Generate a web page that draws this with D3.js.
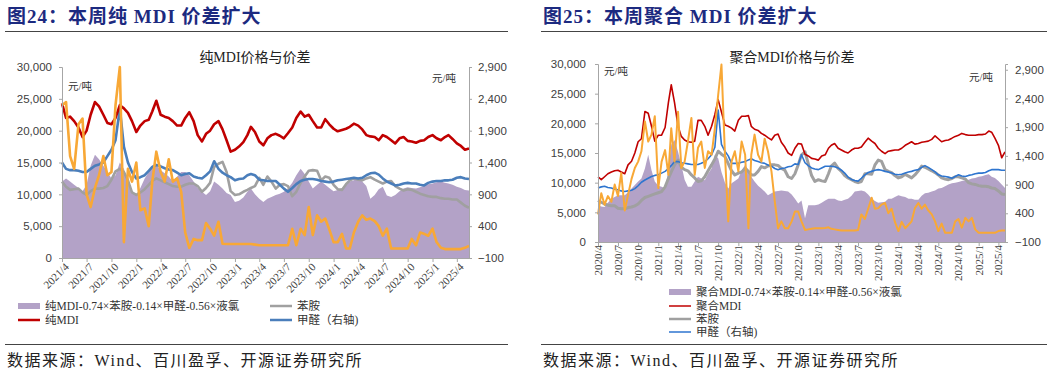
<!DOCTYPE html>
<html>
<head>
<meta charset="utf-8">
<script src="https://cdn.jsdelivr.net/npm/d3@7"></script>
<style>
  body { margin: 0; background: #fff; }
  svg { display: block; font-family: "Liberation Serif", "Noto Sans CJK SC", serif; }
</style>
</head>
<body>
<svg id="chart" width="1057" height="374"></svg>
<script>
// half-month observations, left panel starts 2021/4, right panel starts 2020/4
const pureStart = '2021-04-01';
const polyStart = '2020-04-01';

const pureSpread = [12000,12500,12000,11500,11000,10500,11500,14500,16200,15500,
  14500,13500,12500,13000,15000,14000,12000,10500,9900,11000,
  12500,13500,14500,14600,13800,13300,12800,12000,12800,13500,
  13500,13000,12000,11000,10400,9900,10500,12000,11500,10900,
  10200,9900,8800,9000,9500,10400,10900,10000,9300,8800,
  9300,9600,9900,10100,10400,10900,11800,13000,14000,13200,
  12000,10900,11500,12000,11500,11000,10500,10700,11000,11500,
  12000,12200,12700,12000,11300,9300,9900,10800,11200,9800,
  9600,9900,10500,10900,11100,11000,10900,11100,11400,11600,
  11700,11900,12000,11800,11700,11500,11200,11000,10700,10600];
const pureMDI = [24300,22000,22200,21500,20500,19000,20000,22500,24500,23800,
  22500,21200,21000,22000,24000,23500,22800,21500,19800,20800,
  21500,21700,23000,24700,22500,22200,22000,21500,20800,20800,
  22000,22900,21500,19300,18300,19500,20000,21000,21500,20200,
  18500,16700,17000,17500,18200,19300,20600,19800,18300,17700,
  18800,19300,19500,19200,18800,19600,20500,22000,23000,22200,
  22500,21500,20500,20500,21800,21000,20300,19900,20100,20300,
  20600,21100,20800,20200,19300,19100,19000,18500,19300,19000,
  18500,18000,18800,19000,18400,18300,18100,18400,18500,19000,
  19300,18800,18500,19000,19300,18700,18000,17600,17000,17200];
const pureAniline = [12000,11200,10700,10800,10900,10300,9900,10500,10900,10900,
  11000,11300,12300,13600,14000,13500,12200,10300,9900,10300,
  10800,11500,12100,12500,12200,11900,11600,11300,11200,11200,
  11500,11700,11700,11300,10400,11000,11800,14300,14800,15100,
  13500,10500,9900,10000,10400,10700,11000,11300,12600,11500,
  12800,12000,10900,11500,11600,11300,9700,10400,11800,12800,
  13700,13800,13700,12200,12800,12600,11500,10800,10700,11600,
  12200,12500,12300,12200,12500,12700,12300,12000,11700,12000,
  12100,11300,10900,10600,10800,10700,10400,10100,9900,9700,
  9600,9600,9400,9300,9300,9200,9200,8700,8200,7900];
const pureMethanal = [1400,1300,1280,1280,1270,1250,1250,1300,1350,1370,
  1400,1500,1600,1750,2250,1650,1400,1250,1150,1170,
  1200,1270,1330,1360,1340,1310,1290,1280,1240,1200,
  1220,1230,1180,1160,1150,1200,1260,1420,1300,1240,
  1200,1170,1120,1140,1150,1200,1220,1200,1130,1120,
  1110,1110,1110,1050,990,940,1000,1060,1110,1130,
  1140,1140,1130,1110,1100,1090,1100,1120,1130,1140,
  1150,1160,1150,1160,1200,1230,1240,1210,1150,1100,
  1070,1040,1050,1070,1080,1070,1070,1050,1040,1080,
  1100,1110,1110,1120,1120,1130,1160,1170,1150,1140];
const pureChlorine = [2300,2350,1500,1300,2000,2090,900,700,1000,1200,
  1500,1200,1250,2300,2900,150,1300,1100,1400,650,
  680,400,1100,1570,1250,1100,1450,1100,1150,940,
  300,60,200,180,180,450,360,250,470,125,
  120,120,120,120,120,120,120,110,100,100,
  100,100,100,100,100,100,360,100,360,260,
  700,260,570,470,520,350,150,150,280,50,
  50,300,470,570,500,520,480,400,250,360,
  50,50,50,50,50,200,100,300,280,250,
  360,150,60,40,40,40,40,40,60,90];

const polySpread = [6200,6000,5900,6600,7300,7600,7900,7900,7900,8400,
  9000,9600,10200,10700,12400,14700,12100,10200,9500,9300,
  9000,12100,16400,17200,15200,13000,10500,9300,9300,10200,
  11000,10700,10400,11500,12400,14700,14100,11800,10000,9000,
  9900,10300,10700,12000,13000,12100,11000,10200,9500,9000,
  8500,7900,8200,8500,8600,8700,8600,8500,8000,7300,
  6500,7000,4000,6200,6200,6200,6300,6600,7000,7300,
  7300,7300,7000,6900,7100,7300,7800,8500,8600,8700,
  8500,8000,7300,6900,6600,6700,6800,7300,7300,7600,
  7900,7700,7600,7300,7300,7100,7100,7800,8200,8300,
  8500,8700,9000,9100,9400,9700,9900,10000,10100,10300,
  10400,10500,10700,10800,11000,11100,11300,11400,11000,10800,
  10300,9700,9100];
const polyMDI = [11000,10500,11000,11500,11800,12000,12100,11800,11500,13000,
  13600,15000,16900,17400,22000,21700,19500,17000,18000,18000,
  19300,23500,26500,23500,19500,17800,17200,16900,16800,17000,
  20500,20500,19500,18000,19500,21500,24000,21900,19700,19500,
  19200,18700,20500,21200,21200,21300,19500,19000,18800,18300,
  18000,17600,17200,18000,18200,16800,16000,15000,14600,15800,
  16600,16500,14800,14500,14100,14000,13800,14500,14700,15800,
  16300,16600,15800,15500,15200,15000,15500,15800,15800,16000,
  16800,17500,17000,16600,15800,15300,14900,15300,15400,15500,
  15500,15800,16300,16600,16900,16500,16600,16800,16900,17000,
  17300,17900,17400,16900,17100,17200,17500,17800,18000,18300,
  18100,18000,18000,18000,18100,18100,18200,18700,18500,17500,
  16300,14200,15200];
const polyAniline = [7000,6700,6400,6200,6100,6100,5700,5600,5600,5800,
  5900,6100,6400,7000,7500,7700,7900,8100,8300,8500,
  9300,10700,11800,13000,13800,12600,12200,12000,11300,10800,
  10200,10300,11000,12000,13000,14000,15300,14800,14400,13200,
  12000,11300,11600,11800,12400,11900,11300,11300,11900,12700,
  12500,12800,13000,13000,12900,12400,12100,11000,10700,11500,
  13000,14700,15200,13200,11200,10200,10500,10300,10200,11500,
  12800,13300,12400,11900,11200,10800,10500,10200,10000,10200,
  11500,11500,11400,13000,13800,13600,12200,11900,11700,11200,
  10800,11000,11400,11100,10800,11300,12000,12800,12600,12300,
  12000,11700,11300,10800,10600,10500,10700,11000,11000,10800,
  10600,10000,9800,9700,9500,9400,9400,9300,9100,9000,
  8600,8100,8000];
const polyMethanal = [840,860,870,850,840,820,810,790,780,790,
  800,830,880,940,980,1010,1040,1060,1070,1100,
  1130,1180,1230,1300,1300,1280,1270,1260,1250,1250,
  1250,1270,1300,1350,1420,1550,2200,1600,1480,1400,
  1270,1270,1270,1290,1300,1330,1350,1320,1300,1280,
  1270,1240,1220,1180,1160,1180,1190,1210,1220,1260,
  1250,1420,1280,1230,1190,1170,1160,1190,1220,1220,
  1220,1210,1190,1150,1100,1030,990,970,960,1010,
  1070,1110,1130,1150,1160,1150,1130,1120,1100,1080,
  1070,1080,1100,1120,1130,1150,1160,1200,1230,1200,
  1160,1120,1070,1050,1040,1030,1010,1040,1070,1050,
  1040,1060,1070,1090,1100,1100,1110,1140,1160,1160,
  1160,1150,1150];
const polyChlorine = [380,750,550,700,600,900,700,1100,450,720,
  1000,1190,1300,1480,2000,1650,1770,2090,840,1300,
  1500,1070,1880,1300,2170,1190,1300,1650,2060,1070,
  1540,1650,1190,1480,1420,1880,2460,2990,1420,260,
  1300,1480,1130,1650,1420,140,1420,1770,1420,1300,
  1700,1480,1130,610,140,260,140,140,260,430,
  430,260,110,120,130,140,140,140,145,155,
  130,120,110,100,100,100,100,100,110,380,
  300,480,670,480,490,550,580,400,480,250,
  90,250,140,200,260,490,580,480,550,450,
  380,260,90,220,60,60,60,260,300,150,
  320,260,320,120,60,60,60,60,60,60,
  90,100,100];

const leftTicks = [0, 5000, 10000, 15000, 20000, 25000, 30000];
const rightTicks = [-100, 400, 900, 1400, 1900, 2400, 2900];
const sourceText = '数据来源：Wind、百川盈孚、开源证券研究所';

const colors = {
  spread: '#b3a2c7',
  mdi: '#c00000',
  aniline: '#a0a0a0',
  methanal: '#4a7ebb',
  chlorine: '#f8a836'
};

const svg = d3.select('#chart');

function halfMonths(start, n) {
  const s = new Date(start + 'T00:00:00Z');
  return d3.range(n).map(i => new Date(Date.UTC(s.getUTCFullYear(), s.getUTCMonth() + Math.floor(i / 2), i % 2 ? 16 : 1)));
}

function panel(o) {
  const g = svg.append('g');

  // heading, rules and source
  g.append('text').attr('x', o.hx).attr('y', 23)
    .attr('font-size', 19).attr('font-weight', 'bold').attr('fill', '#1c2a80')
    .attr('letter-spacing', 1).text(o.heading);
  g.append('line').attr('x1', o.rule[0]).attr('x2', o.rule[1]).attr('y1', 31.5).attr('y2', 31.5)
    .attr('stroke', '#444').attr('stroke-width', 1.2);
  g.append('line').attr('x1', o.rule[0]).attr('x2', o.rule[1]).attr('y1', 344.5).attr('y2', 344.5)
    .attr('stroke', '#444').attr('stroke-width', 1.2);
  g.append('text').attr('x', o.hx).attr('y', 366).attr('font-size', 16).attr('fill', '#222')
    .attr('letter-spacing', 1.5).text(sourceText);
  g.append('text').attr('x', o.titleX).attr('y', 62).attr('text-anchor', 'middle')
    .attr('font-size', 14).attr('fill', '#222').text(o.chartTitle);

  const dates = halfMonths(o.start, o.spread.length);
  const x = d3.scaleUtc().domain(d3.extent(dates)).range([o.left, o.right]);
  const yL = d3.scaleLinear().domain([0, 30000]).range([o.bottom, o.top]);
  const yR = d3.scaleLinear().domain(o.rDomain).range([o.bottom, o.top]);

  // spread area
  g.append('path').datum(o.spread)
    .attr('fill', colors.spread)
    .attr('d', d3.area().x((d, i) => x(dates[i])).y0(yL(0)).y1(d => yL(d)));

  const line = (scale) => d3.line().x((d, i) => x(dates[i])).y(d => scale(d));
  const series = [
    [o.aniline, yL, colors.aniline, o.w.aniline],
    [o.methanal, yR, o.blue, o.w.methanal],
    [o.mdi, yL, colors.mdi, o.w.mdi],
    [o.chlorine, yR, colors.chlorine, o.w.chlorine]
  ];
  series.forEach(s => {
    g.append('path').datum(s[0]).attr('fill', 'none')
      .attr('stroke', s[2]).attr('stroke-width', s[3]).attr('stroke-linejoin', 'round')
      .attr('d', line(s[1]));
  });

  // axes
  const styleAxis = sel => {
    sel.selectAll('.domain').attr('stroke', '#a6a6a6');
    sel.selectAll('.tick line').attr('stroke', '#a6a6a6');
    sel.selectAll('text').attr('font-family', null).attr('font-size', 11.5).attr('fill', '#404040');
  };
  g.append('g').attr('transform', `translate(${o.left},0)`)
    .call(d3.axisLeft(yL).tickValues(leftTicks).tickFormat(d3.format(',')).tickSize(3).tickPadding(o.padL))
    .call(styleAxis);
  g.append('g').attr('transform', `translate(${o.right},0)`)
    .call(d3.axisRight(yR).tickValues(rightTicks).tickFormat(d3.format(',')).tickSize(3).tickPadding(o.padR))
    .call(styleAxis);

  const qTicks = d3.utcMonth.every(3).range(dates[0], d3.utcDay.offset(dates[dates.length - 1], 1));
  g.append('g').attr('transform', `translate(0,${o.bottom})`)
    .call(d3.axisBottom(x).tickValues(qTicks).tickFormat('').tickSize(4).tickSizeOuter(0))
    .call(styleAxis);

  const fmt = d3.utcFormat('%Y/%-m');
  g.append('g').selectAll('text').data(qTicks).join('text')
    .attr('font-size', 11).attr('fill', '#404040').attr('text-anchor', 'end')
    .attr('transform', d => o.vertical
      ? `translate(${x(d)},${o.bottom + 3}) rotate(-90)`
      : `translate(${x(d) + 3},${o.bottom + 5}) rotate(-45)`)
    .attr('dy', o.vertical ? '0.35em' : '0.6em')
    .text(fmt);

  // unit labels
  g.append('text').attr('x', o.unitL[0]).attr('y', o.unitL[1]).attr('font-size', 10.5).attr('fill', '#333').text('元/吨');
  g.append('text').attr('x', o.unitR[0]).attr('y', o.unitR[1]).attr('font-size', 10.5).attr('fill', '#333').text('元/吨');

  // legend
  o.legend.forEach(it => {
    const lg = g.append('g').attr('transform', `translate(${it.x},${it.y})`);
    if (it.area) {
      lg.append('rect').attr('x', 0).attr('y', -3).attr('width', 22).attr('height', 6).attr('fill', colors.spread);
    } else {
      lg.append('line').attr('x1', 0).attr('x2', 22).attr('stroke', it.color).attr('stroke-width', it.sw);
    }
    lg.append('text').attr('x', 27).attr('dy', '0.35em').attr('font-size', 11.5).attr('fill', '#333').text(it.label);
  });
}

panel({
  heading: '图24：本周纯 MDI 价差扩大', hx: 7, rule: [5, 508],
  chartTitle: '纯MDI价格与价差', titleX: 255,
  start: pureStart, spread: pureSpread, mdi: pureMDI, aniline: pureAniline,
  methanal: pureMethanal, chlorine: pureChlorine,
  left: 62, right: 469, top: 67, bottom: 258, rDomain: [-100, 2900],
  padL: 7, padR: 6, vertical: false, blue: colors.methanal,
  w: { aniline: 2.6, methanal: 2.6, mdi: 2.6, chlorine: 2.6 },
  unitL: [68, 90], unitR: [432, 82],
  legend: [
    { x: 18, y: 306, area: true, label: '纯MDI-0.74×苯胺-0.14×甲醛-0.56×液氯' },
    { x: 270, y: 306, color: colors.aniline, sw: 2.5, label: '苯胺' },
    { x: 18, y: 320, color: colors.mdi, sw: 2.5, label: '纯MDI' },
    { x: 270, y: 320, color: colors.methanal, sw: 2.5, label: '甲醛（右轴)' }
  ]
});

panel({
  heading: '图25：本周聚合 MDI 价差扩大', hx: 543, rule: [541, 1047],
  chartTitle: '聚合MDI价格与价差', titleX: 792,
  start: polyStart, spread: polySpread, mdi: polyMDI, aniline: polyAniline,
  methanal: polyMethanal, chlorine: polyChlorine,
  left: 598, right: 1005, top: 64, bottom: 242, rDomain: [-100, 3000],
  padL: 9, padR: 7, vertical: true, blue: '#2e75cf',
  w: { aniline: 3, methanal: 1.6, mdi: 1.6, chlorine: 2 },
  unitL: [604, 75], unitR: [969, 81],
  legend: [
    { x: 669, y: 292, area: true, label: '聚合MDI-0.74×苯胺-0.14×甲醛-0.56×液氯' },
    { x: 669, y: 306, color: colors.mdi, sw: 1.5, label: '聚合MDI' },
    { x: 669, y: 319, color: colors.aniline, sw: 2.5, label: '苯胺' },
    { x: 669, y: 332, color: '#2e75cf', sw: 1.5, label: '甲醛（右轴)' }
  ]
});
</script>
</body>
</html>
